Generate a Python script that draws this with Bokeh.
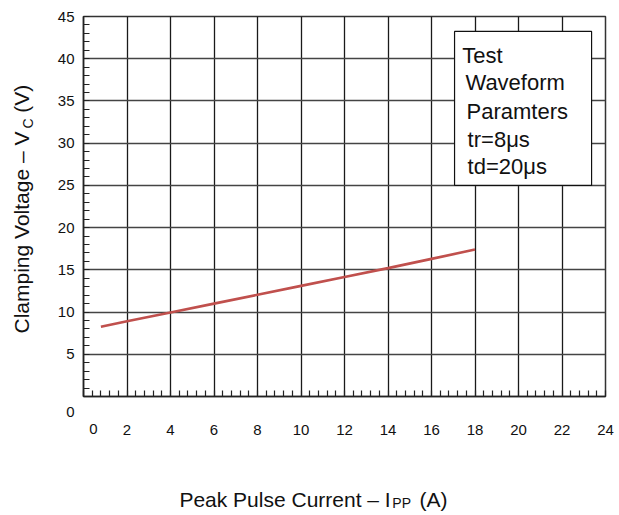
import math
from bokeh.plotting import figure
from bokeh.models import (Range1d, SingleIntervalTicker, Label, BoxAnnotation)
from bokeh.embed import file_html
from bokeh.resources import INLINE

# ---------------- data ----------------
current_a = [0.8, 2, 4, 6, 8, 10, 12, 14, 16, 18]
clamp_v = [8.25, 8.9, 9.95, 11.0, 12.05, 13.1, 14.15, 15.2, 16.3, 17.4]
legend_lines = ["Test", "Waveform", "Paramters", "tr=8\u03bcs", "td=20\u03bcs"]
x_title = "Peak Pulse Current \u2013 I"
x_title_sub = "PP"
x_title_end = "(A)"
y_title = "Clamping Voltage \u2013 V"
y_title_sub = "C"
y_title_end = "(V)"

FONT = "Liberation Sans"
INK = "#111111"

p = figure(width=617, height=513, output_backend="svg", toolbar_location=None,
           x_range=Range1d(0, 24), y_range=Range1d(0, 45),
           min_border_left=83, min_border_right=12, min_border_top=16,
           min_border_bottom=117)
p.background_fill_color = "white"
p.border_fill_color = "white"
p.outline_line_color = "#333333"
p.outline_line_width = 1.5

xt = SingleIntervalTicker(interval=2, num_minor_ticks=5)
yt = SingleIntervalTicker(interval=5, num_minor_ticks=5)
p.xaxis.ticker = xt
p.yaxis.ticker = yt
p.xgrid.ticker = xt
p.ygrid.ticker = yt
p.xgrid.grid_line_color = "#1a1a1a"
p.xgrid.grid_line_width = 1.3
p.ygrid.grid_line_color = "#444444"
p.ygrid.grid_line_width = 1.3

for ax in (p.xaxis[0], p.yaxis[0]):
    ax.axis_line_color = "#222222"
    ax.axis_line_width = 1.5
    ax.major_tick_in = 0
    ax.major_tick_out = 0
    ax.minor_tick_in = 6
    ax.minor_tick_out = 0
    ax.minor_tick_line_color = "#222222"
    ax.minor_tick_line_width = 1.2
    ax.major_label_text_font = FONT
    ax.major_label_text_font_size = "15px"
    ax.major_label_text_color = INK
p.xaxis.major_label_standoff = 28
p.yaxis.major_label_standoff = 9
p.xaxis.major_label_overrides = {0: ""}
p.yaxis.major_label_overrides = {0: ""}


def side_label(panel, **kw):
    # labels outside the frame live in side panels so they are not clipped
    base = dict(text_font=FONT, text_color=INK)
    base.update(kw)
    p.add_layout(Label(**base), panel)


p.line(current_a, clamp_v, line_color="#c0504d", line_width=2.6)

# text box
p.add_layout(BoxAnnotation(left=17.06, right=23.36, top=43.23, bottom=24.99,
                           fill_color="white", fill_alpha=1.0,
                           line_color=INK, line_alpha=1.0, line_width=1.2))
xs = [17.41, 17.56, 17.61, 17.66, 17.66]
ys = [40.42, 37.19, 33.75, 30.47, 27.24]
for txt, xx, yy in zip(legend_lines, xs, ys):
    p.add_layout(Label(x=xx, y=yy, text=txt, text_align="left",
                       text_baseline="alphabetic", text_font=FONT,
                       text_font_size="22px", text_color=INK))

# y-axis title (rotated)
side_label("left", x=-2.83, y=7.46, text=y_title, angle=math.pi / 2,
           text_align="left", text_baseline="alphabetic", text_font_size="21px")
side_label("left", x=-2.83, y=33.6, text=y_title_end, angle=math.pi / 2,
           text_align="left", text_baseline="alphabetic", text_font_size="21px")
side_label("below", x=-2.57, y=31.74, text=y_title_sub, angle=math.pi / 2,
           text_align="left", text_baseline="alphabetic", text_font_size="14px")

# zero labels, offset as in the reference
side_label("left", x=0, y=0, text="0", x_offset=-13, y_offset=-15,
           text_align="center", text_baseline="middle", text_font_size="15px")
side_label("right", x=0, y=0, text="0", x_offset=10, y_offset=-32,
           text_align="center", text_baseline="middle", text_font_size="15px")

# x-axis title
side_label("below", x=4.41, y=-12.14, text=x_title, text_align="left",
           text_baseline="alphabetic", text_font_size="21px")
side_label("above", x=14.2, y=-12.6, text=x_title_sub, text_align="left",
           text_baseline="alphabetic", text_font_size="14px")
side_label("below", x=15.45, y=-12.14, text=x_title_end, text_align="left",
           text_baseline="alphabetic", text_font_size="21px")

open("out.html", "w").write(file_html(p, INLINE))
